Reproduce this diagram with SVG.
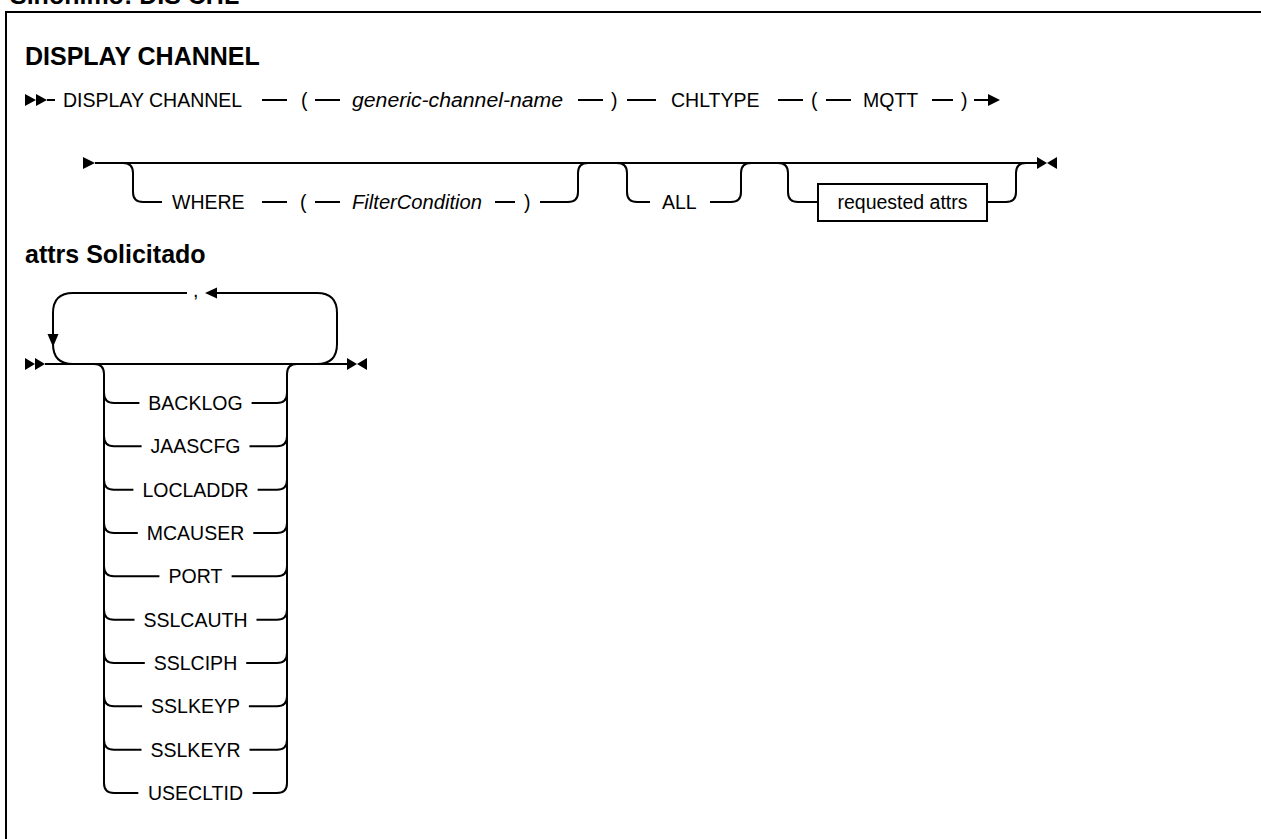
<svg xmlns="http://www.w3.org/2000/svg" width="1261" height="839" viewBox="0 0 1261 839">
<style>
text{font-family:"Liberation Sans",Arial,sans-serif;fill:#000;}
.h{font-size:25px;font-weight:bold;}
.t{font-size:19.5px;}
.i{font-size:19.5px;font-style:italic;}
.m{text-anchor:middle;}
.ln{fill:none;stroke:#000;stroke-width:2;}
.ah{fill:#000;stroke:none;}
.box{fill:#fff;stroke:#000;stroke-width:2;}
</style>
<rect x="0" y="0" width="1261" height="839" fill="#fff"/>
<text class="h" x="10" y="4">Sinónimo: DIS CHL</text>
<path class="ln" d="M6,839 L6,12 L1261,12" stroke-width="2.5"/>
<text class="h" x="25" y="65">DISPLAY CHANNEL</text>
<text class="h" x="25" y="263">attrs Solicitado</text>

<g id="connectors">
  <!-- row 1 -->
  <polygon class="ah" points="25,94 36,100 25,106"/>
  <polygon class="ah" points="36,94 47,100 36,106"/>
  <path class="ln" d="M47,100 L55,100 M262,100 L287,100 M315,100 L340,100 M578,100 L603,100 M627,100 L656,100 M778,100 L803,100 M826,100 L851,100 M932,100 L953,100 M974,100 L990,100"/>
  <polygon class="ah" points="988,94 1000,100 988,106"/>
  <!-- row 2 -->
  <polygon class="ah" points="83,157 95,163 83,169"/>
  <path class="ln" d="M95,163 L1037,163"/>
  <path class="ln" d="M123,163 Q133,163 133,173 L133,192 Q133,202 143,202 L162,202 M262,202 L287,202 M315,202 L340,202 M495,202 L515,202 M540,202 L568,202 Q578,202 578,192 L578,173 Q578,163 588,163"/>
  <path class="ln" d="M617,163 Q627,163 627,173 L627,192 Q627,202 637,202 L650,202 M710,202 L731,202 Q741,202 741,192 L741,173 Q741,163 751,163"/>
  <path class="ln" d="M778,163 Q788,163 788,173 L788,192 Q788,202 798,202 L818,202 M987,202 L1006,202 Q1016,202 1016,192 L1016,173 Q1016,163 1026,163"/>
  <polygon class="ah" points="1037,157 1047,163 1037,169"/>
  <polygon class="ah" points="1057,157 1047,163 1057,169"/>
  <!-- requested attrs -->
  <polygon class="ah" points="25,358 35,364 25,370"/>
  <polygon class="ah" points="35,358 45,364 35,370"/>
  <path class="ln" d="M45,364 L347,364"/>
  <polygon class="ah" points="347,358 357,364 347,370"/>
  <polygon class="ah" points="367,358 357,364 367,370"/>
  <path class="ln" d="M317,364 Q337,364 337,344 L337,313 Q337,293 317,293 L217,293 M187,293 L73,293 Q53,293 53,313 L53,344 Q53,364 73,364"/>
  <polygon class="ah" points="205,293 217,287.5 217,298.5"/>
  <polygon class="ah" points="47.5,334 58.5,334 53,347"/>
  <path class="ln" d="M94,364 Q104,364 104,374 L104,783 M287,783 L287,374 Q287,364 297,364"/>
  <path class="ln" d="M104,393 Q104,403 114,403 L139.4,403 M251.6,403 L277,403 Q287,403 287,393"/>
  <path class="ln" d="M104,436.3 Q104,446.3 114,446.3 L141.6,446.3 M249.5,446.3 L277,446.3 Q287,446.3 287,436.3"/>
  <path class="ln" d="M104,479.7 Q104,489.7 114,489.7 L133.4,489.7 M257.6,489.7 L277,489.7 Q287,489.7 287,479.7"/>
  <path class="ln" d="M104,523 Q104,533 114,533 L137.8,533 M253.3,533 L277,533 Q287,533 287,523"/>
  <path class="ln" d="M104,566.3 Q104,576.3 114,576.3 L159.4,576.3 M231.6,576.3 L277,576.3 Q287,576.3 287,566.3"/>
  <path class="ln" d="M104,609.7 Q104,619.7 114,619.7 L134.5,619.7 M256.5,619.7 L277,619.7 Q287,619.7 287,609.7"/>
  <path class="ln" d="M104,653 Q104,663 114,663 L144.8,663 M246.2,663 L277,663 Q287,663 287,653"/>
  <path class="ln" d="M104,696.3 Q104,706.3 114,706.3 L142.1,706.3 M248.9,706.3 L277,706.3 Q287,706.3 287,696.3"/>
  <path class="ln" d="M104,739.7 Q104,749.7 114,749.7 L141.5,749.7 M249.5,749.7 L277,749.7 Q287,749.7 287,739.7"/>
  <path class="ln" d="M104,783 Q104,793 114,793 L138.3,793 M252.7,793 L277,793 Q287,793 287,783"/>
</g>

<g id="row1">
  <text class="t" x="63" y="107">DISPLAY CHANNEL</text>
  <text class="t" x="301" y="107">(</text>
  <text class="i" x="352" y="107" textLength="211" lengthAdjust="spacingAndGlyphs">generic-channel-name</text>
  <text class="t" x="611" y="107">)</text>
  <text class="t" x="671" y="107">CHLTYPE</text>
  <text class="t" x="811" y="107">(</text>
  <text class="t" x="863" y="107">MQTT</text>
  <text class="t" x="961" y="107">)</text>
</g>
<g id="where">
  <text class="t" x="172" y="209">WHERE</text>
  <text class="t" x="300" y="209">(</text>
  <text class="i" x="352" y="209" textLength="130" lengthAdjust="spacingAndGlyphs">FilterCondition</text>
  <text class="t" x="524" y="209">)</text>
</g>
<g id="all"><text class="t" x="662" y="209">ALL</text></g>
<g id="requested-attrs-ref">
  <rect class="box" x="818" y="184" width="169" height="37"/>
  <text class="t m" x="902.5" y="209">requested attrs</text>
</g>
<g id="comma"><text class="t" x="193" y="297">,</text></g>
<g id="backlog"><text class="t m" x="195.5" y="410">BACKLOG</text></g>
<g id="jaascfg"><text class="t m" x="195.5" y="453.3">JAASCFG</text></g>
<g id="locladdr"><text class="t m" x="195.5" y="496.7">LOCLADDR</text></g>
<g id="mcauser"><text class="t m" x="195.5" y="540">MCAUSER</text></g>
<g id="port"><text class="t m" x="195.5" y="583.3">PORT</text></g>
<g id="sslcauth"><text class="t m" x="195.5" y="626.7">SSLCAUTH</text></g>
<g id="sslciph"><text class="t m" x="195.5" y="670">SSLCIPH</text></g>
<g id="sslkeyp"><text class="t m" x="195.5" y="713.3">SSLKEYP</text></g>
<g id="sslkeyr"><text class="t m" x="195.5" y="756.7">SSLKEYR</text></g>
<g id="usecltid"><text class="t m" x="195.5" y="800">USECLTID</text></g>
</svg>
